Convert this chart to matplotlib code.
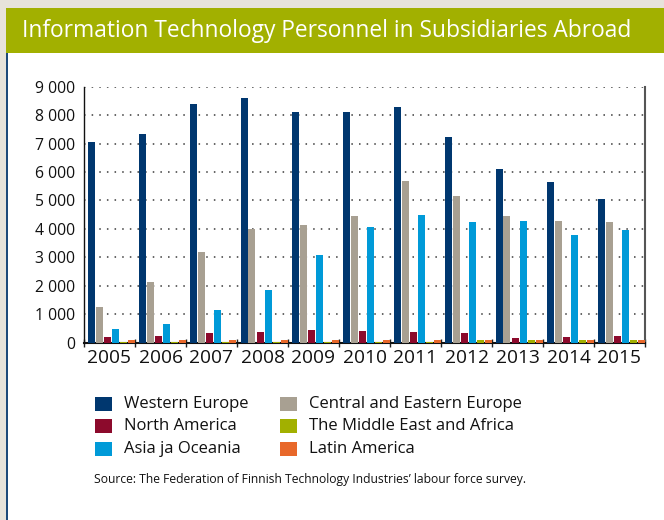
import matplotlib
matplotlib.use("Agg")
import matplotlib.pyplot as plt
from matplotlib.patches import Rectangle
from matplotlib.ticker import FuncFormatter, FixedLocator
import numpy as np

plt.rcParams['font.family'] = ['Open Sans', 'DejaVu Sans']

years = ["2005", "2006", "2007", "2008", "2009", "2010", "2011", "2012", "2013", "2014", "2015"]
western_europe = [7050, 7340, 8390, 8600, 8100, 8100, 8290, 7230, 6100, 5650, 5050]
central_eastern_europe = [1250, 2130, 3190, 4000, 4140, 4450, 5690, 5160, 4450, 4280, 4240]
north_america = [200, 230, 340, 370, 440, 410, 370, 330, 170, 200, 240]
asia_oceania = [480, 650, 1150, 1850, 3080, 4070, 4490, 4240, 4280, 3790, 3960]
middle_east_africa = [40, 40, 40, 40, 40, 40, 40, 100, 80, 110, 110]
latin_america = [80, 80, 80, 80, 80, 80, 80, 80, 80, 80, 80]

series_names = ["Western Europe", "Central and Eastern Europe", "North America",
                "Asia ja Oceania", "The Middle East and Africa", "Latin America"]
series_values = [western_europe, central_eastern_europe, north_america,
                 asia_oceania, middle_east_africa, latin_america]
colors = ["#00376f", "#a8a092", "#8c0a2c", "#009ad8", "#a2b000", "#e8682a"]

W, H = 664, 520
fig = plt.figure(figsize=(W / 100, H / 100), dpi=100)
fig.patch.set_facecolor("#e7e3da")

def px(x0, y0, w, h, **kw):
    # rectangle in pixel coordinates (top-left origin)
    r = Rectangle((x0 / W, 1 - (y0 + h) / H), w / W, h / H, transform=fig.transFigure, **kw)
    fig.patches.append(r)

px(6, 8, W - 6, H - 8, facecolor="white", edgecolor="none", zorder=-3)
px(6, 8, W - 6, 45, facecolor="#a2b000", edgecolor="none", zorder=-2)
px(6, 53, 1.5, H - 53, facecolor="#1d4a7a", edgecolor="none", zorder=-2)

fig.text(22 / W, 1 - 31 / H, "Information Technology Personnel in Subsidiaries Abroad",
         color="white", fontsize=16.4, ha="left", va="center")

ax = fig.add_axes([84 / W, 1 - 342.7 / H, 561 / W, 256 / H])
ax.set_zorder(5)
ax.set_facecolor("none")
n = len(years)
x = np.arange(n)
pitch = 8 / 51
bw = 7 / 51
offset0 = 3.5 / 51 + bw / 2
for k, (vals, c) in enumerate(zip(series_values, colors)):
    ax.bar(x + offset0 + k * pitch, vals, width=bw, color=c, zorder=3, linewidth=0)

ax.set_xlim(0, n)
ax.set_ylim(0, 9000)
ax.set_yticks(np.arange(0, 9001, 1000))
ax.yaxis.set_major_formatter(FuncFormatter(lambda v, p: f"{int(v):,}".replace(",", " ")))
ax.tick_params(axis="y", length=0, pad=6.5, labelsize=11.3, labelcolor="#111111")
ax.grid(axis="y", linestyle=(0, (1, 4)), color="#3a3a3a", linewidth=1.1, zorder=1)
ax.set_axisbelow(True)

ax.xaxis.set_major_locator(FixedLocator(np.arange(0, n + 1)))
ax.xaxis.set_minor_locator(FixedLocator(x + 0.5))
ax.set_xticklabels([])
ax.set_xticklabels(years, minor=True)
ax.tick_params(axis="x", which="major", length=6, direction="inout", width=1, color="#222222")
ax.tick_params(axis="x", which="minor", length=0, pad=4.5, labelsize=13.8, labelcolor="#111111")

ax.spines["top"].set_visible(False)
ax.spines["left"].set_color("#111111")
ax.spines["left"].set_linewidth(1.0)
ax.spines["bottom"].set_color("#111111")
ax.spines["bottom"].set_linewidth(1.5)
ax.spines["right"].set_color("#555555")
ax.spines["right"].set_linewidth(1.5)

# legend layout: (column, row) of each series
legend_col = [0, 1, 0, 0, 1, 1]
legend_row = [0, 0, 1, 2, 1, 2]
col_x = [95, 280]
row_y = [404, 426, 449]
for name, c, col, r in zip(series_names, colors, legend_col, legend_row):
    px(col_x[col], row_y[r] - 7, 17, 14, facecolor=c, edgecolor="none", zorder=2)
    fig.text((col_x[col] + 29) / W, 1 - row_y[r] / H, name, fontsize=12.0,
             color="#111111", ha="left", va="center")

fig.text(94 / W, 1 - 480 / H,
         "Source: The Federation of Finnish Technology Industries\u2019 labour force survey.",
         fontsize=8.7, color="#111111", ha="left", va="center")

fig.savefig("out.png", dpi=100)
